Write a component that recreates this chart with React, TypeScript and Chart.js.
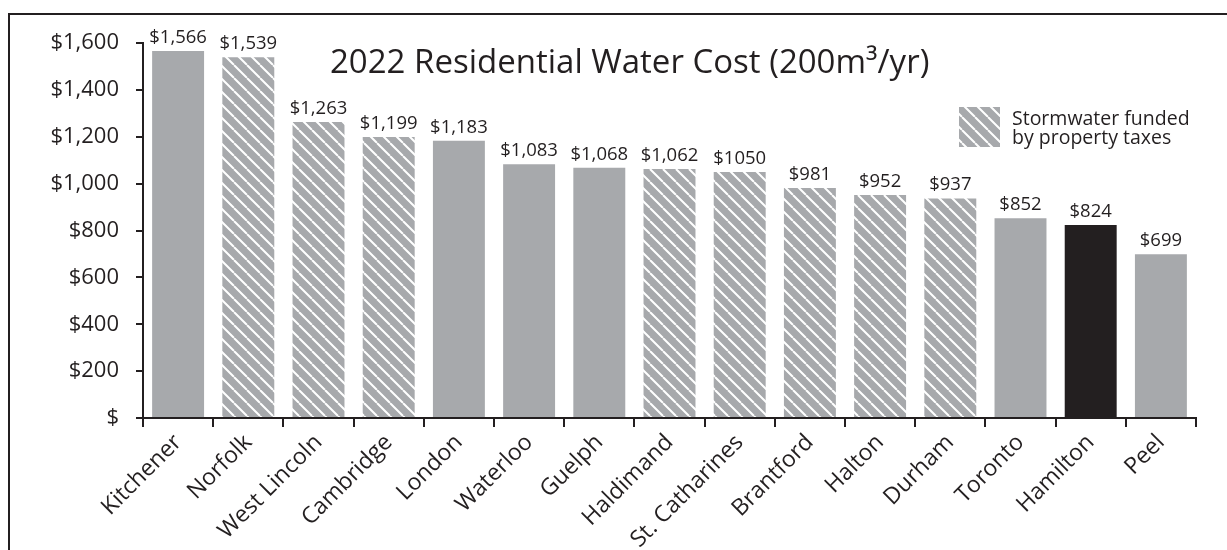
import React, { useEffect, useRef } from 'react';
import { Chart, registerables } from 'chart.js';

Chart.register(...registerables);

const categories = ['Kitchener', 'Norfolk', 'West Lincoln', 'Cambridge', 'London', 'Waterloo', 'Guelph', 'Haldimand', 'St. Catharines', 'Brantford', 'Halton', 'Durham', 'Toronto', 'Hamilton', 'Peel'];
const costs = [1566, 1539, 1263, 1199, 1183, 1083, 1068, 1062, 1050, 981, 952, 937, 852, 824, 699];
const costLabels = ['$1,566', '$1,539', '$1,263', '$1,199', '$1,183', '$1,083', '$1,068', '$1,062', '$1050', '$981', '$952', '$937', '$852', '$824', '$699'];
const stormwaterByTaxes = [false, true, true, true, false, false, false, true, true, true, true, true, false, false, false];
const highlighted = ['Hamilton'];
const yTickLabels = ['$', '$200', '$400', '$600', '$800', '$1,000', '$1,200', '$1,400', '$1,600'];
const titleText = '2022 Residential Water Cost (200m\u00b3/yr)';
const legendLines = ['Stormwater funded', 'by property taxes'];

const INK = '#231f20';
const GRAY = '#a7a9ac';
const FONT = "'Open Sans', 'Noto Sans', sans-serif";

function makeHatch(ctx: CanvasRenderingContext2D): CanvasPattern | string {
  const s = 13;
  const tile = document.createElement('canvas');
  tile.width = s;
  tile.height = s;
  const g = tile.getContext('2d');
  if (!g) return GRAY;
  g.fillStyle = GRAY;
  g.fillRect(0, 0, s, s);
  g.strokeStyle = '#ffffff';
  g.lineWidth = 2;
  g.beginPath();
  for (const k of [-s, 0, s]) {
    g.moveTo(k, 0);
    g.lineTo(k + s, s);
  }
  g.stroke();
  return ctx.createPattern(tile, 'repeat') || GRAY;
}

export default function App() {
  const canvasRef = useRef<HTMLCanvasElement | null>(null);

  useEffect(() => {
    const canvas = canvasRef.current;
    if (!canvas) return;
    const ctx = canvas.getContext('2d');
    if (!ctx) return;
    const hatch = makeHatch(ctx);

    const colors = categories.map((c, i) =>
      highlighted.includes(c) ? INK : stormwaterByTaxes[i] ? hatch : GRAY
    );

    const annotations = {
      id: 'annotations',
      afterDatasetsDraw(chart: any) {
        const c = chart.ctx;
        const meta = chart.getDatasetMeta(0);
        c.save();
        c.fillStyle = INK;
        c.font = `18.5px ${FONT}`;
        c.textAlign = 'center';
        c.textBaseline = 'alphabetic';
        meta.data.forEach((bar: any, i: number) => {
          c.fillText(costLabels[i], bar.x, bar.y - 8);
        });
        // title
        c.textAlign = 'left';
        c.font = `33px ${FONT}`;
        c.fillText(titleText, 330, 73);
        // legend
        c.fillStyle = hatch as any;
        c.fillRect(959, 107, 41, 40);
        c.fillStyle = INK;
        c.font = `19.5px ${FONT}`;
        c.fillText(legendLines[0], 1012, 125);
        c.fillText(legendLines[1], 1012, 144);
        c.restore();
      },
    };

    const chart = new Chart(ctx, {
      type: 'bar',
      data: {
        labels: categories,
        datasets: [
          {
            data: costs,
            backgroundColor: colors as any,
            borderWidth: 0,
            categoryPercentage: 1,
            barPercentage: 0.74,
          },
        ],
      },
      options: {
        responsive: false,
        animation: false,
        layout: { padding: { top: 43, right: 31, bottom: 0, left: 0 } },
        plugins: {
          legend: { display: false },
          tooltip: { enabled: false },
          title: { display: false },
        },
        scales: {
          x: {
            grid: {
              display: true,
              drawOnChartArea: false,
              drawTicks: true,
              tickLength: 9,
              offset: true,
              color: INK,
              lineWidth: 2,
            },
            border: { display: true, color: INK, width: 2 },
            ticks: {
              color: INK,
              font: { family: FONT, size: 23 },
              maxRotation: 45,
              minRotation: 45,
              padding: 2,
              autoSkip: false,
            },
            afterFit: (s: any) => {
              s.height = 132;
            },
          },
          y: {
            min: 0,
            max: 1600,
            ticks: {
              stepSize: 200,
              color: INK,
              font: { family: FONT, size: 22 },
              padding: 17,
              callback: (_v: any, i: number) => yTickLabels[i],
            },
            grid: {
              drawOnChartArea: false,
              tickLength: 7,
              color: INK,
              lineWidth: 2,
            },
            border: { display: true, color: INK, width: 2 },
            afterFit: (s: any) => {
              s.width = 143;
            },
          },
        },
      },
      plugins: [annotations],
    });

    return () => chart.destroy();
  }, []);

  return (
    <div
      style={{
        position: 'fixed',
        left: 0,
        top: 0,
        width: 1227,
        height: 550,
        overflow: 'hidden',
        background: '#ffffff',
      }}
    >
      <canvas
        ref={canvasRef}
        width={1227}
        height={550}
        style={{ position: 'absolute', left: 0, top: 0, width: 1227, height: 550 }}
      />
      <div
        style={{
          position: 'absolute',
          left: 8,
          top: 13,
          width: 1400,
          height: 800,
          border: `2px solid ${INK}`,
          boxSizing: 'border-box',
          pointerEvents: 'none',
        }}
      />
    </div>
  );
}
